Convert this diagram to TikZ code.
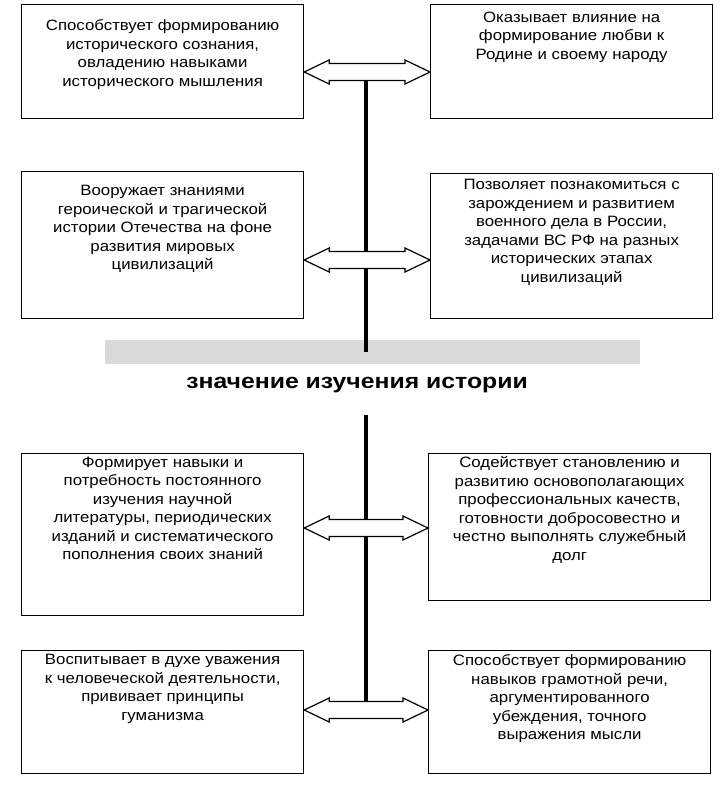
\documentclass[tikz,border=0pt]{standalone}
\usepackage{fontspec}
\setmainfont{Liberation Sans}
\newfontfamily\boxfont[FakeStretch=1.12]{Liberation Sans}
\newfontfamily\titlefont[FakeStretch=1.18]{Liberation Sans}
\usetikzlibrary{calc}

\newcommand{\boxtext}[3]{\parbox[c][#2][t]{272pt}{\centering\boxfont\fontsize{15}{18.5}\selectfont\vspace*{#1}#3}}
\newcommand{\dblarrow}[3]{%
    \draw[arr] (#1.east |- 0,#3) -- ++(25,-12) -- ++(0,3.5)
        -- ($(#2.west |- 0,#3)+(-25,-8.5)$) -- ++(0,-3.5) -- (#2.west |- 0,#3)
        -- ++(-25,12) -- ++(0,-3.5) -- ($(#1.east |- 0,#3)+(25,8.5)$) -- ++(0,3.5) -- cycle;}

\begin{document}
\begin{tikzpicture}[x=1pt,y=-1pt,
    box/.style={draw, line width=1.2pt, anchor=north west, inner xsep=5pt, inner ysep=0pt},
    arr/.style={draw, fill=white, line width=1.2pt, line join=miter},
    spine/.style={line width=3.6pt}]
    \useasboundingbox (0,0) rectangle (721,788);

    % boxes
    \node[box] (vl1) at (21,4) {\boxtext{15pt}{114pt}{Способствует формированию\\ исторического сознания,\\ овладению навыками\\ исторического мышления}};
    \node[box] (vr1) at (430,4) {\boxtext{7pt}{114pt}{Оказывает влияние на\\ формирование любви к\\ Родине и своему народу}};
    \node[box] (vl2) at (21,171) {\boxtext{14pt}{147pt}{Вооружает знаниями\\ героической и трагической\\ истории Отечества на фоне\\ развития мировых\\ цивилизаций}};
    \node[box] (vr2) at (430,173) {\boxtext{6pt}{145pt}{Позволяет познакомиться с\\ зарождением и развитием\\ военного дела в России,\\ задачами ВС РФ на разных\\ исторических этапах\\ цивилизаций}};
    \node[box] (vl3) at (21,453) {\boxtext{3pt}{162pt}{Формирует навыки и\\ потребность постоянного\\ изучения научной\\ литературы, периодических\\ изданий и систематического\\ пополнения своих знаний}};
    \node[box] (vr3) at (428,453) {\boxtext{3pt}{147pt}{Содействует становлению и\\ развитию основополагающих\\ профессиональных качеств,\\ готовности добросовестно и\\ честно выполнять служебный\\ долг}};
    \node[box] (vl4) at (21,650) {\boxtext{4pt}{123pt}{Воспитывает в духе уважения\\ к человеческой деятельности,\\ прививает принципы\\ гуманизма}};
    \node[box] (vr4) at (428,650) {\boxtext{4pt}{123pt}{Способствует формированию\\ навыков грамотной речи,\\ аргументированного\\ убеждения, точного\\ выражения мысли}};

    % title and grey band
    \fill[gray!30] (105,340) rectangle (640,364);
    \node[font=\titlefont\bfseries\fontsize{21}{24}\selectfont] (title) at (357,385) {значение изучения истории};

    % spine
    \coordinate (top) at (366,72);
    \coordinate (band) at (366,352);
    \coordinate (low) at (366,415);
    \coordinate (bot) at (366,710);
    \draw[spine] (top) -- (band);
    \draw[spine] (low) -- (bot);

    % arrows
    \dblarrow{vl1}{vr1}{72}
    \dblarrow{vl2}{vr2}{260}
    \dblarrow{vl3}{vr3}{528}
    \dblarrow{vl4}{vr4}{710}
\end{tikzpicture}
\end{document}
